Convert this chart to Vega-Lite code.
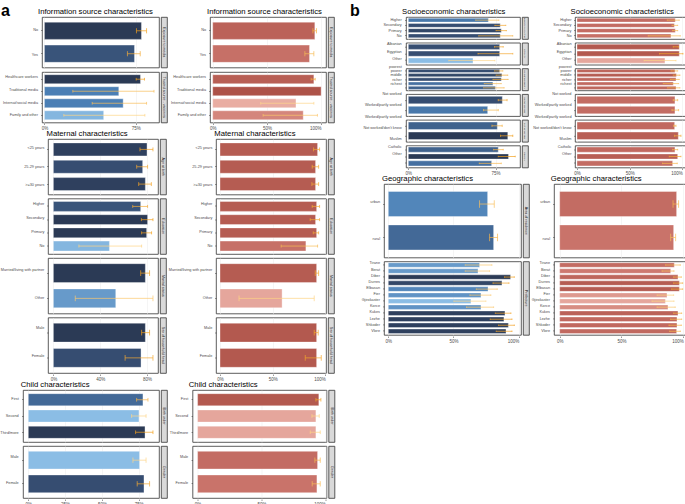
{
"$schema": "https://vega.github.io/schema/vega-lite/v6.json",
"padding": {"left": 0, "top": 3, "right": 0, "bottom": 0},
"background": "white",
"config": {
 "font": "Liberation Sans",
 "view": {"stroke": "#333333", "strokeWidth": 0.8},
 "axis": {"labelFontSize": 4, "labelColor": "#4d4d4d", "tickColor": "#333333", "tickSize": 1.5, "tickWidth": 0.5, "labelPadding": 0.5, "domain": false, "gridColor": "#ebebeb", "gridWidth": 0.5, "labelFlush": false},
 "axisX": {"grid": true, "labelFontSize": 4.5, "labelOverlap": false, "labelAlign": {"expr": "datum.value >= 1 ? 'right' : 'center'"}},
 "axisY": {"grid": false, "labels": false},
 "title": {"fontSize": 7.7, "fontWeight": "normal", "anchor": "start", "color": "black", "offset": 0.5}
},
"datasets": {
 "infoB": [
  {"group": "Exposure to media", "cat": "No", "value": 0.796, "lo": 0.755, "hi": 0.838, "shade": 1.0},
  {"group": "Exposure to media", "cat": "Yes", "value": 0.739, "lo": 0.681, "hi": 0.786, "shade": 0.8},
  {"group": "Trusted source - vaccines", "cat": "Healthcare workers", "value": 0.788, "lo": 0.753, "hi": 0.821, "shade": 1.0},
  {"group": "Trusted source - vaccines", "cat": "Traditional media", "value": 0.61, "lo": 0.233, "hi": 0.899, "shade": 0.5},
  {"group": "Trusted source - vaccines", "cat": "Internat/social media", "value": 0.646, "lo": 0.392, "hi": 0.838, "shade": 0.5},
  {"group": "Trusted source - vaccines", "cat": "Family and other", "value": 0.486, "lo": 0.159, "hi": 0.824, "shade": 0.1}
 ],
 "infoR": [
  {"group": "Exposure to media", "cat": "No", "value": 0.942, "lo": 0.924, "hi": 0.957, "shade": 0.75},
  {"group": "Exposure to media", "cat": "Yes", "value": 0.893, "lo": 0.85, "hi": 0.933, "shade": 0.55},
  {"group": "Trusted source - vaccines", "cat": "Healthcare workers", "value": 0.933, "lo": 0.908, "hi": 0.945, "shade": 0.8},
  {"group": "Trusted source - vaccines", "cat": "Traditional media", "value": 1.0, "lo": null, "hi": null, "shade": 1.0},
  {"group": "Trusted source - vaccines", "cat": "Internat/social media", "value": 0.768, "lo": 0.443, "hi": 0.933, "shade": 0.05},
  {"group": "Trusted source - vaccines", "cat": "Family and other", "value": 0.835, "lo": 0.465, "hi": 0.966, "shade": 0.35}
 ],
 "matB": [
  {"group": "Age at birth", "cat": "<25 years", "value": 0.80, "lo": 0.74, "hi": 0.851, "shade": 0.95},
  {"group": "Age at birth", "cat": "25-29 years", "value": 0.763, "lo": 0.712, "hi": 0.805, "shade": 0.85},
  {"group": "Age at birth", "cat": ">=30 years", "value": 0.786, "lo": 0.729, "hi": 0.837, "shade": 0.95},
  {"group": "Education", "cat": "Higher", "value": 0.746, "lo": 0.678, "hi": 0.805, "shade": 0.8},
  {"group": "Education", "cat": "Secondary", "value": 0.805, "lo": 0.752, "hi": 0.851, "shade": 1.0},
  {"group": "Education", "cat": "Primary", "value": 0.797, "lo": 0.754, "hi": 0.839, "shade": 1.0},
  {"group": "Education", "cat": "No", "value": 0.479, "lo": 0.218, "hi": 0.754, "shade": 0.1},
  {"group": "Marital status", "cat": "Married/living with partner", "value": 0.786, "lo": 0.746, "hi": 0.822, "shade": 1.0},
  {"group": "Marital status", "cat": "Other", "value": 0.533, "lo": 0.187, "hi": 0.851, "shade": 0.3},
  {"group": "Sex of household head", "cat": "Male", "value": 0.786, "lo": 0.754, "hi": 0.822, "shade": 1.0},
  {"group": "Sex of household head", "cat": "Female", "value": 0.749, "lo": 0.613, "hi": 0.851, "shade": 0.85}
 ],
 "matR": [
  {"group": "Age at birth", "cat": "<25 years", "value": 0.927, "lo": 0.889, "hi": 0.946, "shade": 0.85},
  {"group": "Age at birth", "cat": "25-29 years", "value": 0.908, "lo": 0.876, "hi": 0.937, "shade": 0.85},
  {"group": "Age at birth", "cat": ">=30 years", "value": 0.908, "lo": 0.873, "hi": 0.937, "shade": 0.85},
  {"group": "Education", "cat": "Higher", "value": 0.918, "lo": 0.876, "hi": 0.946, "shade": 0.85},
  {"group": "Education", "cat": "Secondary", "value": 0.908, "lo": 0.857, "hi": 0.946, "shade": 0.85},
  {"group": "Education", "cat": "Primary", "value": 0.918, "lo": 0.886, "hi": 0.937, "shade": 0.85},
  {"group": "Education", "cat": "No", "value": 0.816, "lo": 0.581, "hi": 0.927, "shade": 0.55},
  {"group": "Marital status", "cat": "Married/living with partner", "value": 0.918, "lo": 0.905, "hi": 0.937, "shade": 0.85},
  {"group": "Marital status", "cat": "Other", "value": 0.59, "lo": 0.181, "hi": 0.895, "shade": 0.1},
  {"group": "Sex of household head", "cat": "Male", "value": 0.918, "lo": 0.895, "hi": 0.933, "shade": 0.9},
  {"group": "Sex of household head", "cat": "Female", "value": 0.918, "lo": 0.81, "hi": 0.962, "shade": 0.9}
 ],
 "childB": [
  {"group": "Birth order", "cat": "First", "value": 0.779, "lo": 0.736, "hi": 0.813, "shade": 0.65},
  {"group": "Birth order", "cat": "Second", "value": 0.752, "lo": 0.702, "hi": 0.8, "shade": 0.05},
  {"group": "Birth order", "cat": "Third/more", "value": 0.793, "lo": 0.729, "hi": 0.847, "shade": 1.0},
  {"group": "Gender", "cat": "Male", "value": 0.756, "lo": 0.711, "hi": 0.8, "shade": 0.05},
  {"group": "Gender", "cat": "Female", "value": 0.786, "lo": 0.74, "hi": 0.824, "shade": 0.85}
 ],
 "childR": [
  {"group": "Birth order", "cat": "First", "value": 0.95, "lo": 0.927, "hi": 0.966, "shade": 0.9},
  {"group": "Birth order", "cat": "Second", "value": 0.927, "lo": 0.896, "hi": 0.953, "shade": 0.1},
  {"group": "Birth order", "cat": "Third/more", "value": 0.927, "lo": 0.883, "hi": 0.961, "shade": 0.1},
  {"group": "Gender", "cat": "Male", "value": 0.94, "lo": 0.919, "hi": 0.961, "shade": 0.6},
  {"group": "Gender", "cat": "Female", "value": 0.935, "lo": 0.898, "hi": 0.961, "shade": 0.5}
 ],
 "socB": [
  {"group": "Education of partner", "cat": "Higher", "value": 0.688, "lo": 0.579, "hi": 0.779, "shade": 0.55},
  {"group": "Education of partner", "cat": "Secondary", "value": 0.79, "lo": 0.744, "hi": 0.838, "shade": 0.85},
  {"group": "Education of partner", "cat": "Primary", "value": 0.799, "lo": 0.754, "hi": 0.843, "shade": 0.9},
  {"group": "Education of partner", "cat": "No", "value": 0.79, "lo": 0.605, "hi": 0.898, "shade": 0.85},
  {"group": "Ethnicity", "cat": "Albanian", "value": 0.785, "lo": 0.741, "hi": 0.816, "shade": 0.85},
  {"group": "Ethnicity", "cat": "Egyptian", "value": 0.785, "lo": 0.599, "hi": 0.898, "shade": 0.85},
  {"group": "Ethnicity", "cat": "Other", "value": 0.556, "lo": 0.348, "hi": 0.744, "shade": 0.05},
  {"group": "Household wealth", "cat": "poorest", "value": 0.785, "lo": 0.741, "hi": 0.813, "shade": 0.85},
  {"group": "Household wealth", "cat": "poorer", "value": 0.804, "lo": 0.754, "hi": 0.855, "shade": 0.9},
  {"group": "Household wealth", "cat": "middle", "value": 0.799, "lo": 0.727, "hi": 0.858, "shade": 0.85},
  {"group": "Household wealth", "cat": "richer", "value": 0.727, "lo": 0.652, "hi": 0.799, "shade": 0.6},
  {"group": "Household wealth", "cat": "richest", "value": 0.748, "lo": 0.647, "hi": 0.824, "shade": 0.7},
  {"group": "Mother worked", "cat": "Not worked", "value": 0.808, "lo": 0.773, "hi": 0.849, "shade": 0.85},
  {"group": "Mother worked", "cat": "Worked/partly worked", "value": 0.682, "lo": 0.647, "hi": 0.773, "shade": 0.55},
  {"group": "Partner worked", "cat": "Worked/partly worked", "value": 0.765, "lo": 0.719, "hi": 0.807, "shade": 0.7},
  {"group": "Partner worked", "cat": "Not worked/don't know", "value": 0.855, "lo": 0.793, "hi": 0.898, "shade": 1.0},
  {"group": "Religion", "cat": "Muslim", "value": 0.773, "lo": 0.733, "hi": 0.816, "shade": 0.7},
  {"group": "Religion", "cat": "Catholic", "value": 0.861, "lo": 0.773, "hi": 0.919, "shade": 1.0},
  {"group": "Religion", "cat": "Other", "value": 0.716, "lo": 0.61, "hi": 0.799, "shade": 0.6}
 ],
 "socR": [
  {"group": "Education of partner", "cat": "Higher", "value": 0.933, "lo": 0.857, "hi": 0.971, "shade": 0.6},
  {"group": "Education of partner", "cat": "Secondary", "value": 0.924, "lo": 0.902, "hi": 0.956, "shade": 0.6},
  {"group": "Education of partner", "cat": "Primary", "value": 0.933, "lo": 0.908, "hi": 0.956, "shade": 0.6},
  {"group": "Education of partner", "cat": "No", "value": 0.892, "lo": 0.676, "hi": 0.981, "shade": 0.55},
  {"group": "Ethnicity", "cat": "Albanian", "value": 0.971, "lo": 0.914, "hi": 0.962, "shade": 0.9},
  {"group": "Ethnicity", "cat": "Egyptian", "value": 0.971, "lo": 0.784, "hi": 1.006, "shade": 0.9},
  {"group": "Ethnicity", "cat": "Other", "value": 0.835, "lo": 0.638, "hi": 0.94, "shade": 0.1},
  {"group": "Household wealth", "cat": "poorest", "value": 0.93, "lo": 0.892, "hi": 0.956, "shade": 0.7},
  {"group": "Household wealth", "cat": "poorer", "value": 0.943, "lo": 0.914, "hi": 0.978, "shade": 0.85},
  {"group": "Household wealth", "cat": "middle", "value": 0.94, "lo": 0.886, "hi": 0.971, "shade": 0.7},
  {"group": "Household wealth", "cat": "richer", "value": 0.914, "lo": 0.819, "hi": 0.965, "shade": 0.65},
  {"group": "Household wealth", "cat": "richest", "value": 0.94, "lo": 0.86, "hi": 0.978, "shade": 0.7},
  {"group": "Mother worked", "cat": "Not worked", "value": 0.93, "lo": 0.914, "hi": 0.956, "shade": 0.6},
  {"group": "Mother worked", "cat": "Worked/partly worked", "value": 0.93, "lo": 0.902, "hi": 0.965, "shade": 0.6},
  {"group": "Partner worked", "cat": "Worked/partly worked", "value": 0.927, "lo": 0.918, "hi": 0.94, "shade": 0.65},
  {"group": "Partner worked", "cat": "Not worked/don't know", "value": 0.962, "lo": 0.927, "hi": 0.987, "shade": 0.8},
  {"group": "Religion", "cat": "Muslim", "value": 0.93, "lo": 0.908, "hi": 0.956, "shade": 0.65},
  {"group": "Religion", "cat": "Catholic", "value": 0.956, "lo": 0.876, "hi": 0.987, "shade": 0.8},
  {"group": "Religion", "cat": "Other", "value": 0.908, "lo": 0.813, "hi": 0.952, "shade": 0.6}
 ],
 "geoB": [
  {"group": "Area of residence", "cat": "urban", "value": 0.762, "lo": 0.7, "hi": 0.813, "shade": 0.45},
  {"group": "Area of residence", "cat": "rural", "value": 0.808, "lo": 0.777, "hi": 0.838, "shade": 0.65},
  {"group": "Prefecture", "cat": "Tirane", "value": 0.7, "lo": 0.59, "hi": 0.795, "shade": 0.3},
  {"group": "Prefecture", "cat": "Berat", "value": 0.688, "lo": 0.59, "hi": 0.777, "shade": 0.3},
  {"group": "Prefecture", "cat": "Diber", "value": 0.938, "lo": 0.892, "hi": 0.967, "shade": 1.0},
  {"group": "Prefecture", "cat": "Durres", "value": 0.872, "lo": 0.803, "hi": 0.926, "shade": 0.9},
  {"group": "Prefecture", "cat": "Elbasan", "value": 0.765, "lo": 0.675, "hi": 0.836, "shade": 0.45},
  {"group": "Prefecture", "cat": "Fier", "value": 0.711, "lo": 0.626, "hi": 0.787, "shade": 0.35},
  {"group": "Prefecture", "cat": "Gjirokaster", "value": 0.634, "lo": 0.503, "hi": 0.749, "shade": 0.05},
  {"group": "Prefecture", "cat": "Korce", "value": 0.711, "lo": 0.6, "hi": 0.808, "shade": 0.35},
  {"group": "Prefecture", "cat": "Kukes", "value": 0.895, "lo": 0.821, "hi": 0.941, "shade": 0.95},
  {"group": "Prefecture", "cat": "Lezhe", "value": 0.887, "lo": 0.782, "hi": 0.949, "shade": 0.95},
  {"group": "Prefecture", "cat": "Shkoder", "value": 0.921, "lo": 0.846, "hi": 0.967, "shade": 0.95},
  {"group": "Prefecture", "cat": "Vlore", "value": 0.903, "lo": 0.828, "hi": 0.949, "shade": 0.95}
 ],
 "geoR": [
  {"group": "Area of residence", "cat": "urban", "value": 0.946, "lo": 0.917, "hi": 0.962, "shade": 0.6},
  {"group": "Area of residence", "cat": "rural", "value": 0.922, "lo": 0.898, "hi": 0.938, "shade": 0.5},
  {"group": "Prefecture", "cat": "Tirane", "value": 0.927, "lo": 0.857, "hi": 0.976, "shade": 0.6},
  {"group": "Prefecture", "cat": "Berat", "value": 0.898, "lo": 0.828, "hi": 0.925, "shade": 0.45},
  {"group": "Prefecture", "cat": "Diber", "value": 0.957, "lo": 0.922, "hi": 0.984, "shade": 0.7},
  {"group": "Prefecture", "cat": "Durres", "value": 0.968, "lo": 0.922, "hi": 0.995, "shade": 0.85},
  {"group": "Prefecture", "cat": "Elbasan", "value": 0.968, "lo": 0.906, "hi": 0.995, "shade": 0.85},
  {"group": "Prefecture", "cat": "Fier", "value": 0.868, "lo": 0.788, "hi": 0.922, "shade": 0.2},
  {"group": "Prefecture", "cat": "Gjirokaster", "value": 0.855, "lo": 0.747, "hi": 0.925, "shade": 0.1},
  {"group": "Prefecture", "cat": "Korce", "value": 0.876, "lo": 0.788, "hi": 0.935, "shade": 0.3},
  {"group": "Prefecture", "cat": "Kukes", "value": 0.957, "lo": 0.922, "hi": 0.987, "shade": 0.75},
  {"group": "Prefecture", "cat": "Lezhe", "value": 0.949, "lo": 0.898, "hi": 0.987, "shade": 0.65},
  {"group": "Prefecture", "cat": "Shkoder", "value": 0.949, "lo": 0.884, "hi": 0.984, "shade": 0.65},
  {"group": "Prefecture", "cat": "Vlore", "value": 0.946, "lo": 0.89, "hi": 0.976, "shade": 0.65}
 ]
},
"spacing": 15,
"hconcat": [
 {"title": {"text": "a", "fontSize": 16, "fontWeight": "bold", "anchor": "start", "offset": -11, "dx": 1},
  "spacing": 0, "columns": 1,
  "concat": [
   {"spacing": 0, "resolve": {"scale": {"fill": "independent"}}, "hconcat": [
    {"title": {"text": "Information source characteristics", "dx": 38}, "spacing": 0, "hconcat": [
     {"data": {"name": "infoB"},
      "facet": {"row": {"field": "group", "type": "nominal", "sort": ["Exposure to media", "Trusted source - vaccines"], "header": {"title": null, "labels": false}}},
      "spacing": 3, "resolve": {"scale": {"y": "independent"}},
      "spec": {"width": 38.5, "height": 50.5, "view": {"stroke": null},
       "mark": {"type": "text", "align": "right", "baseline": "middle", "fontSize": 3.8, "color": "#4d4d4d", "dx": -0.5},
       "encoding": {"y": {"field": "cat", "type": "nominal", "sort": ["No", "Yes", "Healthcare workers", "Traditional media", "Internat/social media", "Family and other"], "axis": null, "scale": {"paddingInner": 0.25, "paddingOuter": 0.225}},
        "x": {"datum": 1, "type": "quantitative", "scale": {"domain": [0, 1]}, "axis": null}, "text": {"field": "cat"}}}},
     {"data": {"name": "infoB"},
      "facet": {"row": {"field": "group", "type": "nominal", "sort": ["Exposure to media", "Trusted source - vaccines"], "header": {"title": null, "labels": false}}},
      "spacing": 3, "resolve": {"scale": {"y": "independent"}},
      "spec": {"width": 117, "height": 50.5,
       "encoding": {"y": {"field": "cat", "type": "nominal", "title": null, "sort": ["No", "Yes", "Healthcare workers", "Traditional media", "Internat/social media", "Family and other"], "scale": {"paddingInner": 0.25, "paddingOuter": 0.225}}},
       "layer": [
        {"mark": {"type": "bar", "stroke": "white", "strokeWidth": 0.6, "strokeOpacity": 0.6},
         "encoding": {"x": {"field": "value", "type": "quantitative", "title": null, "scale": {"domain": [-0.02, 0.94], "nice": false}, "axis": {"values": [0, 0.25, 0.5, 0.75], "format": ".0%"}}, "x2": {"datum": 0},
          "fill": {"field": "shade", "type": "quantitative", "scale": {"domain": [0, 0.5, 1], "range": ["#93c4ea", "#4b7fb5", "#2b3a55"]}, "legend": null}}},
        {"mark": {"type": "rule", "strokeWidth": 0.7}, "encoding": {"x": {"field": "lo", "type": "quantitative"}, "x2": {"field": "hi"}, "stroke": {"field": "shade", "type": "quantitative", "scale": {"domain": [0, 1], "range": ["#ffd98f", "#f2a01e"]}, "legend": null}}},
        {"mark": {"type": "rule", "strokeWidth": 0.7}, "encoding": {"x": {"field": "lo", "type": "quantitative"}, "y": {"field": "cat", "type": "nominal", "sort": ["No", "Yes", "Healthcare workers", "Traditional media", "Internat/social media", "Family and other"], "bandPosition": 0.35}, "y2": {"field": "cat", "bandPosition": 0.65}, "stroke": {"field": "shade", "type": "quantitative", "legend": null}}},
        {"mark": {"type": "rule", "strokeWidth": 0.7}, "encoding": {"x": {"field": "hi", "type": "quantitative"}, "y": {"field": "cat", "type": "nominal", "sort": ["No", "Yes", "Healthcare workers", "Traditional media", "Internat/social media", "Family and other"], "bandPosition": 0.35}, "y2": {"field": "cat", "bandPosition": 0.65}, "stroke": {"field": "shade", "type": "quantitative", "legend": null}}}
       ]}},
     {"data": {"name": "infoB"}, "transform": [{"aggregate": [{"op": "count", "as": "n"}], "groupby": ["group"]}],
      "facet": {"row": {"field": "group", "type": "nominal", "sort": ["Exposure to media", "Trusted source - vaccines"], "header": {"title": null, "labels": false}}},
      "spacing": 3,
      "spec": {"width": 6, "height": 50.5, "view": {"fill": "#d9d9d9", "stroke": "#333333", "strokeWidth": 0.8}, "mark": {"type": "text", "angle": 90, "fontSize": 3.6, "color": "#1a1a1a"}, "encoding": {"text": {"field": "group", "type": "nominal"}}}}
    ]},
    {"title": {"text": "Information source characteristics", "dx": 39}, "spacing": 0, "hconcat": [
     {"data": {"name": "infoR"},
      "facet": {"row": {"field": "group", "type": "nominal", "sort": ["Exposure to media", "Trusted source - vaccines"], "header": {"title": null, "labels": false}}},
      "spacing": 3, "resolve": {"scale": {"y": "independent"}},
      "spec": {"width": 38.5, "height": 50.5, "view": {"stroke": null},
       "mark": {"type": "text", "align": "right", "baseline": "middle", "fontSize": 3.8, "color": "#4d4d4d", "dx": -0.5},
       "encoding": {"y": {"field": "cat", "type": "nominal", "sort": ["No", "Yes", "Healthcare workers", "Traditional media", "Internat/social media", "Family and other"], "axis": null, "scale": {"paddingInner": 0.25, "paddingOuter": 0.225}},
        "x": {"datum": 1, "type": "quantitative", "scale": {"domain": [0, 1]}, "axis": null}, "text": {"field": "cat"}}}},
     {"data": {"name": "infoR"},
      "facet": {"row": {"field": "group", "type": "nominal", "sort": ["Exposure to media", "Trusted source - vaccines"], "header": {"title": null, "labels": false}}},
      "spacing": 3, "resolve": {"scale": {"y": "independent"}},
      "spec": {"width": 116, "height": 50.5,
       "encoding": {"y": {"field": "cat", "type": "nominal", "title": null, "sort": ["No", "Yes", "Healthcare workers", "Traditional media", "Internat/social media", "Family and other"], "scale": {"paddingInner": 0.25, "paddingOuter": 0.225}}},
       "layer": [
        {"mark": {"type": "bar", "stroke": "white", "strokeWidth": 0.6, "strokeOpacity": 0.6},
         "encoding": {"x": {"field": "value", "type": "quantitative", "title": null, "scale": {"domain": [-0.025, 1.045], "nice": false}, "axis": {"values": [0, 0.25, 0.5, 0.75, 1], "format": ".0%"}}, "x2": {"datum": 0},
          "fill": {"field": "shade", "type": "quantitative", "scale": {"domain": [0, 0.5, 1], "range": ["#ecb3a9", "#c9736a", "#ad5248"]}, "legend": null}}},
        {"mark": {"type": "rule", "strokeWidth": 0.7}, "encoding": {"x": {"field": "lo", "type": "quantitative"}, "x2": {"field": "hi"}, "stroke": {"field": "shade", "type": "quantitative", "scale": {"domain": [0, 1], "range": ["#ffd98f", "#f2a01e"]}, "legend": null}}},
        {"mark": {"type": "rule", "strokeWidth": 0.7}, "encoding": {"x": {"field": "lo", "type": "quantitative"}, "y": {"field": "cat", "type": "nominal", "sort": ["No", "Yes", "Healthcare workers", "Traditional media", "Internat/social media", "Family and other"], "bandPosition": 0.35}, "y2": {"field": "cat", "bandPosition": 0.65}, "stroke": {"field": "shade", "type": "quantitative", "legend": null}}},
        {"mark": {"type": "rule", "strokeWidth": 0.7}, "encoding": {"x": {"field": "hi", "type": "quantitative"}, "y": {"field": "cat", "type": "nominal", "sort": ["No", "Yes", "Healthcare workers", "Traditional media", "Internat/social media", "Family and other"], "bandPosition": 0.35}, "y2": {"field": "cat", "bandPosition": 0.65}, "stroke": {"field": "shade", "type": "quantitative", "legend": null}}}
       ]}},
     {"data": {"name": "infoR"}, "transform": [{"aggregate": [{"op": "count", "as": "n"}], "groupby": ["group"]}],
      "facet": {"row": {"field": "group", "type": "nominal", "sort": ["Exposure to media", "Trusted source - vaccines"], "header": {"title": null, "labels": false}}},
      "spacing": 3,
      "spec": {"width": 6, "height": 50.5, "view": {"fill": "#d9d9d9", "stroke": "#333333", "strokeWidth": 0.8}, "mark": {"type": "text", "angle": 90, "fontSize": 3.6, "color": "#1a1a1a"}, "encoding": {"text": {"field": "group", "type": "nominal"}}}}
    ]}
   ]},
   {"spacing": 1, "resolve": {"scale": {"fill": "independent"}}, "hconcat": [
    {"title": {"text": "Maternal characteristics", "dx": 46.5}, "spacing": 0, "hconcat": [
     {"data": {"name": "matB"},
      "facet": {"row": {"field": "group", "type": "nominal", "sort": ["Age at birth", "Education", "Marital status", "Sex of household head"], "header": {"title": null, "labels": false}}},
      "spacing": 2.5, "resolve": {"scale": {"y": "independent"}},
      "spec": {"width": 44.8, "height": 55.5,
       "view": {"stroke": null},
       "mark": {"type": "text", "align": "right", "baseline": "middle", "fontSize": 3.8, "color": "#4d4d4d", "dx": -0.5},
       "encoding": {"y": {"field": "cat", "type": "nominal", "sort": ["<25 years", "25-29 years", ">=30 years", "Higher", "Secondary", "Primary", "No", "Married/living with partner", "Other", "Male", "Female"], "axis": null, "scale": {"paddingInner": 0.25, "paddingOuter": 0.225}},
        "x": {"datum": 1, "type": "quantitative", "scale": {"domain": [0, 1]}, "axis": null}, "text": {"field": "cat"}}}},
     {"data": {"name": "matB"},
      "facet": {"row": {"field": "group", "type": "nominal", "sort": ["Age at birth", "Education", "Marital status", "Sex of household head"], "header": {"title": null, "labels": false}}},
      "spacing": 2.5, "resolve": {"scale": {"y": "independent"}},
      "spec": {"width": 110, "height": 55.5,
       "encoding": {"y": {"field": "cat", "type": "nominal", "title": null, "sort": ["<25 years", "25-29 years", ">=30 years", "Higher", "Secondary", "Primary", "No", "Married/living with partner", "Other", "Male", "Female"], "scale": {"paddingInner": 0.25, "paddingOuter": 0.225}}},
       "layer": [
        {"mark": {"type": "bar", "stroke": "white", "strokeWidth": 0.6, "strokeOpacity": 0.6},
         "encoding": {"x": {"field": "value", "type": "quantitative", "title": null, "scale": {"domain": [-0.046, 0.894], "nice": false}, "axis": {"values": [0, 0.2, 0.4, 0.6, 0.8], "format": ".0%"}}, "x2": {"datum": 0},
          "fill": {"field": "shade", "type": "quantitative", "scale": {"domain": [0, 0.5, 1], "range": ["#93c4ea", "#4b7fb5", "#2b3a55"]}, "legend": null}}},
        {"mark": {"type": "rule", "strokeWidth": 0.7}, "encoding": {"x": {"field": "lo", "type": "quantitative"}, "x2": {"field": "hi"}, "stroke": {"field": "shade", "type": "quantitative", "scale": {"domain": [0, 1], "range": ["#ffd98f", "#f2a01e"]}, "legend": null}}},
        {"mark": {"type": "rule", "strokeWidth": 0.7}, "encoding": {"x": {"field": "lo", "type": "quantitative"}, "y": {"field": "cat", "type": "nominal", "sort": ["<25 years", "25-29 years", ">=30 years", "Higher", "Secondary", "Primary", "No", "Married/living with partner", "Other", "Male", "Female"], "bandPosition": 0.35}, "y2": {"field": "cat", "bandPosition": 0.65}, "stroke": {"field": "shade", "type": "quantitative", "legend": null}}},
        {"mark": {"type": "rule", "strokeWidth": 0.7}, "encoding": {"x": {"field": "hi", "type": "quantitative"}, "y": {"field": "cat", "type": "nominal", "sort": ["<25 years", "25-29 years", ">=30 years", "Higher", "Secondary", "Primary", "No", "Married/living with partner", "Other", "Male", "Female"], "bandPosition": 0.35}, "y2": {"field": "cat", "bandPosition": 0.65}, "stroke": {"field": "shade", "type": "quantitative", "legend": null}}}
       ]}},
     {"data": {"name": "matB"}, "transform": [{"aggregate": [{"op": "count", "as": "n"}], "groupby": ["group"]}],
      "facet": {"row": {"field": "group", "type": "nominal", "sort": ["Age at birth", "Education", "Marital status", "Sex of household head"], "header": {"title": null, "labels": false}}},
      "spacing": 2.5,
      "spec": {"width": 6, "height": 55.5, "view": {"fill": "#d9d9d9", "stroke": "#333333", "strokeWidth": 0.8}, "mark": {"type": "text", "angle": 90, "fontSize": 3.6, "color": "#1a1a1a"}, "encoding": {"text": {"field": "group", "type": "nominal"}}}}
    ]},
    {"title": {"text": "Maternal characteristics", "dx": 46.3}, "spacing": 0, "hconcat": [
     {"data": {"name": "matR"},
      "facet": {"row": {"field": "group", "type": "nominal", "sort": ["Age at birth", "Education", "Marital status", "Sex of household head"], "header": {"title": null, "labels": false}}},
      "spacing": 2.5, "resolve": {"scale": {"y": "independent"}},
      "spec": {"width": 44.8, "height": 55.5,
       "view": {"stroke": null},
       "mark": {"type": "text", "align": "right", "baseline": "middle", "fontSize": 3.8, "color": "#4d4d4d", "dx": -0.5},
       "encoding": {"y": {"field": "cat", "type": "nominal", "sort": ["<25 years", "25-29 years", ">=30 years", "Higher", "Secondary", "Primary", "No", "Married/living with partner", "Other", "Male", "Female"], "axis": null, "scale": {"paddingInner": 0.25, "paddingOuter": 0.225}},
        "x": {"datum": 1, "type": "quantitative", "scale": {"domain": [0, 1]}, "axis": null}, "text": {"field": "cat"}}}},
     {"data": {"name": "matR"},
      "facet": {"row": {"field": "group", "type": "nominal", "sort": ["Age at birth", "Education", "Marital status", "Sex of household head"], "header": {"title": null, "labels": false}}},
      "spacing": 2.5, "resolve": {"scale": {"y": "independent"}},
      "spec": {"width": 110, "height": 55.5,
       "encoding": {"y": {"field": "cat", "type": "nominal", "title": null, "sort": ["<25 years", "25-29 years", ">=30 years", "Higher", "Secondary", "Primary", "No", "Married/living with partner", "Other", "Male", "Female"], "scale": {"paddingInner": 0.25, "paddingOuter": 0.225}}},
       "layer": [
        {"mark": {"type": "bar", "stroke": "white", "strokeWidth": 0.6, "strokeOpacity": 0.6},
         "encoding": {"x": {"field": "value", "type": "quantitative", "title": null, "scale": {"domain": [-0.038, 1.007], "nice": false}, "axis": {"values": [0, 0.25, 0.5, 0.75, 1], "format": ".0%"}}, "x2": {"datum": 0},
          "fill": {"field": "shade", "type": "quantitative", "scale": {"domain": [0, 0.5, 1], "range": ["#ecb3a9", "#c9736a", "#ad5248"]}, "legend": null}}},
        {"mark": {"type": "rule", "strokeWidth": 0.7}, "encoding": {"x": {"field": "lo", "type": "quantitative"}, "x2": {"field": "hi"}, "stroke": {"field": "shade", "type": "quantitative", "scale": {"domain": [0, 1], "range": ["#ffd98f", "#f2a01e"]}, "legend": null}}},
        {"mark": {"type": "rule", "strokeWidth": 0.7}, "encoding": {"x": {"field": "lo", "type": "quantitative"}, "y": {"field": "cat", "type": "nominal", "sort": ["<25 years", "25-29 years", ">=30 years", "Higher", "Secondary", "Primary", "No", "Married/living with partner", "Other", "Male", "Female"], "bandPosition": 0.35}, "y2": {"field": "cat", "bandPosition": 0.65}, "stroke": {"field": "shade", "type": "quantitative", "legend": null}}},
        {"mark": {"type": "rule", "strokeWidth": 0.7}, "encoding": {"x": {"field": "hi", "type": "quantitative"}, "y": {"field": "cat", "type": "nominal", "sort": ["<25 years", "25-29 years", ">=30 years", "Higher", "Secondary", "Primary", "No", "Married/living with partner", "Other", "Male", "Female"], "bandPosition": 0.35}, "y2": {"field": "cat", "bandPosition": 0.65}, "stroke": {"field": "shade", "type": "quantitative", "legend": null}}}
       ]}},
     {"data": {"name": "matR"}, "transform": [{"aggregate": [{"op": "count", "as": "n"}], "groupby": ["group"]}],
      "facet": {"row": {"field": "group", "type": "nominal", "sort": ["Age at birth", "Education", "Marital status", "Sex of household head"], "header": {"title": null, "labels": false}}},
      "spacing": 2.5,
      "spec": {"width": 6, "height": 55.5, "view": {"fill": "#d9d9d9", "stroke": "#333333", "strokeWidth": 0.8}, "mark": {"type": "text", "angle": 90, "fontSize": 3.6, "color": "#1a1a1a"}, "encoding": {"text": {"field": "group", "type": "nominal"}}}}
    ]}
   ]},
   {"spacing": 1.5, "resolve": {"scale": {"fill": "independent"}}, "hconcat": [
    {"title": {"text": "Child characteristics", "dx": 20.7}, "spacing": 0, "hconcat": [
     {"data": {"name": "childB"},
      "facet": {"row": {"field": "group", "type": "nominal", "sort": ["Birth order", "Gender"], "header": {"title": null, "labels": false}}},
      "spacing": 2, "resolve": {"scale": {"y": "independent"}},
      "spec": {"width": 19.2, "height": 52,
       "view": {"stroke": null},
       "mark": {"type": "text", "align": "right", "baseline": "middle", "fontSize": 3.8, "color": "#4d4d4d", "dx": -0.5},
       "encoding": {"y": {"field": "cat", "type": "nominal", "sort": ["First", "Second", "Third/more", "Male", "Female"], "axis": null, "scale": {"paddingInner": 0.25, "paddingOuter": 0.225}},
        "x": {"datum": 1, "type": "quantitative", "scale": {"domain": [0, 1]}, "axis": null}, "text": {"field": "cat"}}}},
     {"data": {"name": "childB"},
      "facet": {"row": {"field": "group", "type": "nominal", "sort": ["Birth order", "Gender"], "header": {"title": null, "labels": false}}},
      "spacing": 2, "resolve": {"scale": {"y": "independent"}},
      "spec": {"width": 136, "height": 52,
       "encoding": {"y": {"field": "cat", "type": "nominal", "title": null, "sort": ["First", "Second", "Third/more", "Male", "Female"], "scale": {"paddingInner": 0.25, "paddingOuter": 0.225}}},
       "layer": [
        {"mark": {"type": "bar", "stroke": "white", "strokeWidth": 0.6, "strokeOpacity": 0.6},
         "encoding": {"x": {"field": "value", "type": "quantitative", "title": null, "scale": {"domain": [-0.036, 0.888], "nice": false}, "axis": {"values": [0, 0.25, 0.5, 0.75], "format": ".0%"}}, "x2": {"datum": 0},
          "fill": {"field": "shade", "type": "quantitative", "scale": {"domain": [0, 0.5, 1], "range": ["#93c4ea", "#4b7fb5", "#2b3a55"]}, "legend": null}}},
        {"mark": {"type": "rule", "strokeWidth": 0.7}, "encoding": {"x": {"field": "lo", "type": "quantitative"}, "x2": {"field": "hi"}, "stroke": {"field": "shade", "type": "quantitative", "scale": {"domain": [0, 1], "range": ["#ffd98f", "#f2a01e"]}, "legend": null}}},
        {"mark": {"type": "rule", "strokeWidth": 0.7}, "encoding": {"x": {"field": "lo", "type": "quantitative"}, "y": {"field": "cat", "type": "nominal", "sort": ["First", "Second", "Third/more", "Male", "Female"], "bandPosition": 0.35}, "y2": {"field": "cat", "bandPosition": 0.65}, "stroke": {"field": "shade", "type": "quantitative", "legend": null}}},
        {"mark": {"type": "rule", "strokeWidth": 0.7}, "encoding": {"x": {"field": "hi", "type": "quantitative"}, "y": {"field": "cat", "type": "nominal", "sort": ["First", "Second", "Third/more", "Male", "Female"], "bandPosition": 0.35}, "y2": {"field": "cat", "bandPosition": 0.65}, "stroke": {"field": "shade", "type": "quantitative", "legend": null}}}
       ]}},
     {"data": {"name": "childB"}, "transform": [{"aggregate": [{"op": "count", "as": "n"}], "groupby": ["group"]}],
      "facet": {"row": {"field": "group", "type": "nominal", "sort": ["Birth order", "Gender"], "header": {"title": null, "labels": false}}},
      "spacing": 2,
      "spec": {"width": 6, "height": 52, "view": {"fill": "#d9d9d9", "stroke": "#333333", "strokeWidth": 0.8}, "mark": {"type": "text", "angle": 90, "fontSize": 3.6, "color": "#1a1a1a"}, "encoding": {"text": {"field": "group", "type": "nominal"}}}}
    ]},
    {"title": {"text": "Child characteristics", "dx": 19.3}, "spacing": 0, "hconcat": [
     {"data": {"name": "childR"},
      "facet": {"row": {"field": "group", "type": "nominal", "sort": ["Birth order", "Gender"], "header": {"title": null, "labels": false}}},
      "spacing": 2, "resolve": {"scale": {"y": "independent"}},
      "spec": {"width": 19.2, "height": 52,
       "view": {"stroke": null},
       "mark": {"type": "text", "align": "right", "baseline": "middle", "fontSize": 3.8, "color": "#4d4d4d", "dx": -0.5},
       "encoding": {"y": {"field": "cat", "type": "nominal", "sort": ["First", "Second", "Third/more", "Male", "Female"], "axis": null, "scale": {"paddingInner": 0.25, "paddingOuter": 0.225}},
        "x": {"datum": 1, "type": "quantitative", "scale": {"domain": [0, 1]}, "axis": null}, "text": {"field": "cat"}}}},
     {"data": {"name": "childR"},
      "facet": {"row": {"field": "group", "type": "nominal", "sort": ["Birth order", "Gender"], "header": {"title": null, "labels": false}}},
      "spacing": 2, "resolve": {"scale": {"y": "independent"}},
      "spec": {"width": 134, "height": 52,
       "encoding": {"y": {"field": "cat", "type": "nominal", "title": null, "sort": ["First", "Second", "Third/more", "Male", "Female"], "scale": {"paddingInner": 0.25, "paddingOuter": 0.225}}},
       "layer": [
        {"mark": {"type": "bar", "stroke": "white", "strokeWidth": 0.6, "strokeOpacity": 0.6},
         "encoding": {"x": {"field": "value", "type": "quantitative", "title": null, "scale": {"domain": [-0.04, 1.01], "nice": false}, "axis": {"values": [0, 0.25, 0.5, 0.75, 1], "format": ".0%"}}, "x2": {"datum": 0},
          "fill": {"field": "shade", "type": "quantitative", "scale": {"domain": [0, 0.5, 1], "range": ["#ecb3a9", "#c9736a", "#ad5248"]}, "legend": null}}},
        {"mark": {"type": "rule", "strokeWidth": 0.7}, "encoding": {"x": {"field": "lo", "type": "quantitative"}, "x2": {"field": "hi"}, "stroke": {"field": "shade", "type": "quantitative", "scale": {"domain": [0, 1], "range": ["#ffd98f", "#f2a01e"]}, "legend": null}}},
        {"mark": {"type": "rule", "strokeWidth": 0.7}, "encoding": {"x": {"field": "lo", "type": "quantitative"}, "y": {"field": "cat", "type": "nominal", "sort": ["First", "Second", "Third/more", "Male", "Female"], "bandPosition": 0.35}, "y2": {"field": "cat", "bandPosition": 0.65}, "stroke": {"field": "shade", "type": "quantitative", "legend": null}}},
        {"mark": {"type": "rule", "strokeWidth": 0.7}, "encoding": {"x": {"field": "hi", "type": "quantitative"}, "y": {"field": "cat", "type": "nominal", "sort": ["First", "Second", "Third/more", "Male", "Female"], "bandPosition": 0.35}, "y2": {"field": "cat", "bandPosition": 0.65}, "stroke": {"field": "shade", "type": "quantitative", "legend": null}}}
       ]}},
     {"data": {"name": "childR"}, "transform": [{"aggregate": [{"op": "count", "as": "n"}], "groupby": ["group"]}],
      "facet": {"row": {"field": "group", "type": "nominal", "sort": ["Birth order", "Gender"], "header": {"title": null, "labels": false}}},
      "spacing": 2,
      "spec": {"width": 6, "height": 52, "view": {"fill": "#d9d9d9", "stroke": "#333333", "strokeWidth": 0.8}, "mark": {"type": "text", "angle": 90, "fontSize": 3.6, "color": "#1a1a1a"}, "encoding": {"text": {"field": "group", "type": "nominal"}}}}
    ]}
   ]}
  ]},
 {"title": {"text": "b", "fontSize": 16, "fontWeight": "bold", "anchor": "start", "offset": -11, "dx": -10},
  "spacing": 0, "columns": 1,
  "concat": [
   {"spacing": 3, "resolve": {"scale": {"fill": "independent"}}, "hconcat": [
    {"title": {"text": "Socioeconomic characteristics", "dx": 42}, "spacing": 0, "hconcat": [
     {"data": {"name": "socB"},
      "facet": {"row": {"field": "group", "type": "nominal", "sort": ["Education of partner", "Ethnicity", "Household wealth", "Mother worked", "Partner worked", "Religion"], "header": {"title": null, "labels": false}}},
      "spacing": 1.7, "resolve": {"scale": {"y": "independent"}},
      "spec": {"width": 42.2, "height": 22,
       "view": {"stroke": null},
       "mark": {"type": "text", "align": "right", "baseline": "middle", "fontSize": 3.8, "color": "#4d4d4d", "dx": -0.5},
       "encoding": {"y": {"field": "cat", "type": "nominal", "sort": ["Higher", "Secondary", "Primary", "No", "Albanian", "Egyptian", "poorest", "poorer", "middle", "richer", "richest", "Not worked", "Worked/partly worked", "Not worked/don't know", "Muslim", "Catholic", "Other"], "axis": null, "scale": {"paddingInner": 0.25, "paddingOuter": 0.225}},
        "x": {"datum": 1, "type": "quantitative", "scale": {"domain": [0, 1]}, "axis": null}, "text": {"field": "cat"}}}},
     {"data": {"name": "socB"},
      "facet": {"row": {"field": "group", "type": "nominal", "sort": ["Education of partner", "Ethnicity", "Household wealth", "Mother worked", "Partner worked", "Religion"], "header": {"title": null, "labels": false}}},
      "spacing": 1.7, "resolve": {"scale": {"y": "independent"}},
      "spec": {"width": 114, "height": 22,
       "encoding": {"y": {"field": "cat", "type": "nominal", "title": null, "sort": ["Higher", "Secondary", "Primary", "No", "Albanian", "Egyptian", "poorest", "poorer", "middle", "richer", "richest", "Not worked", "Worked/partly worked", "Not worked/don't know", "Muslim", "Catholic", "Other"], "scale": {"paddingInner": 0.25, "paddingOuter": 0.225}}},
       "layer": [
        {"mark": {"type": "bar", "stroke": "white", "strokeWidth": 0.6, "strokeOpacity": 0.6},
         "encoding": {"x": {"field": "value", "type": "quantitative", "title": null, "scale": {"domain": [-0.02, 0.96], "nice": false}, "axis": {"values": [0, 0.25, 0.5, 0.75], "format": ".0%"}}, "x2": {"datum": 0},
          "fill": {"field": "shade", "type": "quantitative", "scale": {"domain": [0, 0.5, 1], "range": ["#93c4ea", "#4b7fb5", "#2b3a55"]}, "legend": null}}},
        {"mark": {"type": "rule", "strokeWidth": 0.7}, "encoding": {"x": {"field": "lo", "type": "quantitative"}, "x2": {"field": "hi"}, "stroke": {"field": "shade", "type": "quantitative", "scale": {"domain": [0, 1], "range": ["#ffd98f", "#f2a01e"]}, "legend": null}}},
        {"mark": {"type": "rule", "strokeWidth": 0.7}, "encoding": {"x": {"field": "lo", "type": "quantitative"}, "y": {"field": "cat", "type": "nominal", "sort": ["Higher", "Secondary", "Primary", "No", "Albanian", "Egyptian", "poorest", "poorer", "middle", "richer", "richest", "Not worked", "Worked/partly worked", "Not worked/don't know", "Muslim", "Catholic", "Other"], "bandPosition": 0.35}, "y2": {"field": "cat", "bandPosition": 0.65}, "stroke": {"field": "shade", "type": "quantitative", "legend": null}}},
        {"mark": {"type": "rule", "strokeWidth": 0.7}, "encoding": {"x": {"field": "hi", "type": "quantitative"}, "y": {"field": "cat", "type": "nominal", "sort": ["Higher", "Secondary", "Primary", "No", "Albanian", "Egyptian", "poorest", "poorer", "middle", "richer", "richest", "Not worked", "Worked/partly worked", "Not worked/don't know", "Muslim", "Catholic", "Other"], "bandPosition": 0.35}, "y2": {"field": "cat", "bandPosition": 0.65}, "stroke": {"field": "shade", "type": "quantitative", "legend": null}}}
       ]}},
     {"data": {"name": "socB"}, "transform": [{"aggregate": [{"op": "count", "as": "n"}], "groupby": ["group"]}],
      "facet": {"row": {"field": "group", "type": "nominal", "sort": ["Education of partner", "Ethnicity", "Household wealth", "Mother worked", "Partner worked", "Religion"], "header": {"title": null, "labels": false}}},
      "spacing": 1.7,
      "spec": {"width": 6, "height": 22, "view": {"fill": "#d9d9d9", "stroke": "#333333", "strokeWidth": 0.8}, "mark": {"type": "text", "angle": 90, "fontSize": 2.3, "color": "#1a1a1a"}, "encoding": {"text": {"field": "group", "type": "nominal"}}}}
    ]},
    {"title": {"text": "Socioeconomic characteristics", "dx": 38.5}, "spacing": 0, "hconcat": [
     {"data": {"name": "socR"},
      "facet": {"row": {"field": "group", "type": "nominal", "sort": ["Education of partner", "Ethnicity", "Household wealth", "Mother worked", "Partner worked", "Religion"], "header": {"title": null, "labels": false}}},
      "spacing": 1.7, "resolve": {"scale": {"y": "independent"}},
      "spec": {"width": 40, "height": 22,
       "view": {"stroke": null},
       "mark": {"type": "text", "align": "right", "baseline": "middle", "fontSize": 3.8, "color": "#4d4d4d", "dx": -0.5},
       "encoding": {"y": {"field": "cat", "type": "nominal", "sort": ["Higher", "Secondary", "Primary", "No", "Albanian", "Egyptian", "poorest", "poorer", "middle", "richer", "richest", "Not worked", "Worked/partly worked", "Not worked/don't know", "Muslim", "Catholic", "Other"], "axis": null, "scale": {"paddingInner": 0.25, "paddingOuter": 0.225}},
        "x": {"datum": 1, "type": "quantitative", "scale": {"domain": [0, 1]}, "axis": null}, "text": {"field": "cat"}}}},
     {"data": {"name": "socR"},
      "facet": {"row": {"field": "group", "type": "nominal", "sort": ["Education of partner", "Ethnicity", "Household wealth", "Mother worked", "Partner worked", "Religion"], "header": {"title": null, "labels": false}}},
      "spacing": 1.7, "resolve": {"scale": {"y": "independent"}},
      "spec": {"width": 111, "height": 22,
       "encoding": {"y": {"field": "cat", "type": "nominal", "title": null, "sort": ["Higher", "Secondary", "Primary", "No", "Albanian", "Egyptian", "poorest", "poorer", "middle", "richer", "richest", "Not worked", "Worked/partly worked", "Not worked/don't know", "Muslim", "Catholic", "Other"], "scale": {"paddingInner": 0.25, "paddingOuter": 0.225}}},
       "layer": [
        {"mark": {"type": "bar", "stroke": "white", "strokeWidth": 0.6, "strokeOpacity": 0.6},
         "encoding": {"x": {"field": "value", "type": "quantitative", "title": null, "scale": {"domain": [-0.019, 1.035], "nice": false}, "axis": {"values": [0, 0.25, 0.5, 0.75, 1], "format": ".0%"}}, "x2": {"datum": 0},
          "fill": {"field": "shade", "type": "quantitative", "scale": {"domain": [0, 0.5, 1], "range": ["#ecb3a9", "#c9736a", "#ad5248"]}, "legend": null}}},
        {"mark": {"type": "rule", "strokeWidth": 0.7}, "encoding": {"x": {"field": "lo", "type": "quantitative"}, "x2": {"field": "hi"}, "stroke": {"field": "shade", "type": "quantitative", "scale": {"domain": [0, 1], "range": ["#ffd98f", "#f2a01e"]}, "legend": null}}},
        {"mark": {"type": "rule", "strokeWidth": 0.7}, "encoding": {"x": {"field": "lo", "type": "quantitative"}, "y": {"field": "cat", "type": "nominal", "sort": ["Higher", "Secondary", "Primary", "No", "Albanian", "Egyptian", "poorest", "poorer", "middle", "richer", "richest", "Not worked", "Worked/partly worked", "Not worked/don't know", "Muslim", "Catholic", "Other"], "bandPosition": 0.35}, "y2": {"field": "cat", "bandPosition": 0.65}, "stroke": {"field": "shade", "type": "quantitative", "legend": null}}},
        {"mark": {"type": "rule", "strokeWidth": 0.7}, "encoding": {"x": {"field": "hi", "type": "quantitative"}, "y": {"field": "cat", "type": "nominal", "sort": ["Higher", "Secondary", "Primary", "No", "Albanian", "Egyptian", "poorest", "poorer", "middle", "richer", "richest", "Not worked", "Worked/partly worked", "Not worked/don't know", "Muslim", "Catholic", "Other"], "bandPosition": 0.35}, "y2": {"field": "cat", "bandPosition": 0.65}, "stroke": {"field": "shade", "type": "quantitative", "legend": null}}}
       ]}},
     {"data": {"name": "socR"}, "transform": [{"aggregate": [{"op": "count", "as": "n"}], "groupby": ["group"]}],
      "facet": {"row": {"field": "group", "type": "nominal", "sort": ["Education of partner", "Ethnicity", "Household wealth", "Mother worked", "Partner worked", "Religion"], "header": {"title": null, "labels": false}}},
      "spacing": 1.7,
      "spec": {"width": 6, "height": 22, "view": {"fill": "#d9d9d9", "stroke": "#333333", "strokeWidth": 0.8}, "mark": {"type": "text", "angle": 90, "fontSize": 2.3, "color": "#1a1a1a"}, "encoding": {"text": {"field": "group", "type": "nominal"}}}}
    ]}
   ]},
   {"spacing": 0, "resolve": {"scale": {"fill": "independent"}}, "hconcat": [
    {"title": {"text": "Geographic characteristics", "dx": 22}, "spacing": 0, "hconcat": [
     {"data": {"name": "geoB"},
      "facet": {"row": {"field": "group", "type": "nominal", "sort": ["Area of residence", "Prefecture"], "header": {"title": null, "labels": false}}},
      "spacing": 2.4, "resolve": {"scale": {"y": "independent"}},
      "spec": {"width": 20.5, "height": 73.5,
       "view": {"stroke": null},
       "mark": {"type": "text", "align": "right", "baseline": "middle", "fontSize": 3.8, "color": "#4d4d4d", "dx": -0.5},
       "encoding": {"y": {"field": "cat", "type": "nominal", "sort": ["urban", "rural", "Tirane", "Berat", "Diber", "Durres", "Elbasan", "Fier", "Gjirokaster", "Korce", "Kukes", "Lezhe", "Shkoder", "Vlore"], "axis": null, "scale": {"paddingInner": 0.25, "paddingOuter": 0.225}},
        "x": {"datum": 1, "type": "quantitative", "scale": {"domain": [0, 1]}, "axis": null}, "text": {"field": "cat"}}}},
     {"data": {"name": "geoB"},
      "facet": {"row": {"field": "group", "type": "nominal", "sort": ["Area of residence", "Prefecture"], "header": {"title": null, "labels": false}}},
      "spacing": 2.4, "resolve": {"scale": {"y": "independent"}},
      "spec": {"width": 137, "height": 73.5,
       "encoding": {"y": {"field": "cat", "type": "nominal", "title": null, "sort": ["urban", "rural", "Tirane", "Berat", "Diber", "Durres", "Elbasan", "Fier", "Gjirokaster", "Korce", "Kukes", "Lezhe", "Shkoder", "Vlore"], "scale": {"paddingInner": 0.25, "paddingOuter": 0.225}}},
       "layer": [
        {"mark": {"type": "bar", "stroke": "white", "strokeWidth": 0.6, "strokeOpacity": 0.6},
         "encoding": {"x": {"field": "value", "type": "quantitative", "title": null, "scale": {"domain": [-0.033, 1.018], "nice": false}, "axis": {"values": [0, 0.25, 0.5, 0.75, 1], "format": ".0%"}}, "x2": {"datum": 0},
          "fill": {"field": "shade", "type": "quantitative", "scale": {"domain": [0, 0.5, 1], "range": ["#93c4ea", "#4b7fb5", "#2b3a55"]}, "legend": null}}},
        {"mark": {"type": "rule", "strokeWidth": 0.7}, "encoding": {"x": {"field": "lo", "type": "quantitative"}, "x2": {"field": "hi"}, "stroke": {"field": "shade", "type": "quantitative", "scale": {"domain": [0, 1], "range": ["#ffd98f", "#f2a01e"]}, "legend": null}}},
        {"mark": {"type": "rule", "strokeWidth": 0.7}, "encoding": {"x": {"field": "lo", "type": "quantitative"}, "y": {"field": "cat", "type": "nominal", "sort": ["urban", "rural", "Tirane", "Berat", "Diber", "Durres", "Elbasan", "Fier", "Gjirokaster", "Korce", "Kukes", "Lezhe", "Shkoder", "Vlore"], "bandPosition": 0.35}, "y2": {"field": "cat", "bandPosition": 0.65}, "stroke": {"field": "shade", "type": "quantitative", "legend": null}}},
        {"mark": {"type": "rule", "strokeWidth": 0.7}, "encoding": {"x": {"field": "hi", "type": "quantitative"}, "y": {"field": "cat", "type": "nominal", "sort": ["urban", "rural", "Tirane", "Berat", "Diber", "Durres", "Elbasan", "Fier", "Gjirokaster", "Korce", "Kukes", "Lezhe", "Shkoder", "Vlore"], "bandPosition": 0.35}, "y2": {"field": "cat", "bandPosition": 0.65}, "stroke": {"field": "shade", "type": "quantitative", "legend": null}}}
       ]}},
     {"data": {"name": "geoB"}, "transform": [{"aggregate": [{"op": "count", "as": "n"}], "groupby": ["group"]}],
      "facet": {"row": {"field": "group", "type": "nominal", "sort": ["Area of residence", "Prefecture"], "header": {"title": null, "labels": false}}},
      "spacing": 2.4,
      "spec": {"width": 6, "height": 73.5, "view": {"fill": "#d9d9d9", "stroke": "#333333", "strokeWidth": 0.8}, "mark": {"type": "text", "angle": 90, "fontSize": 3.6, "color": "#1a1a1a"}, "encoding": {"text": {"field": "group", "type": "nominal"}}}}
    ]},
    {"title": {"text": "Geographic characteristics", "dx": 20.7}, "spacing": 0, "hconcat": [
     {"data": {"name": "geoR"},
      "facet": {"row": {"field": "group", "type": "nominal", "sort": ["Area of residence", "Prefecture"], "header": {"title": null, "labels": false}}},
      "spacing": 2.4, "resolve": {"scale": {"y": "independent"}},
      "spec": {"width": 20.5, "height": 73.5,
       "view": {"stroke": null},
       "mark": {"type": "text", "align": "right", "baseline": "middle", "fontSize": 3.8, "color": "#4d4d4d", "dx": -0.5},
       "encoding": {"y": {"field": "cat", "type": "nominal", "sort": ["urban", "rural", "Tirane", "Berat", "Diber", "Durres", "Elbasan", "Fier", "Gjirokaster", "Korce", "Kukes", "Lezhe", "Shkoder", "Vlore"], "axis": null, "scale": {"paddingInner": 0.25, "paddingOuter": 0.225}},
        "x": {"datum": 1, "type": "quantitative", "scale": {"domain": [0, 1]}, "axis": null}, "text": {"field": "cat"}}}},
     {"data": {"name": "geoR"},
      "facet": {"row": {"field": "group", "type": "nominal", "sort": ["Area of residence", "Prefecture"], "header": {"title": null, "labels": false}}},
      "spacing": 2.4, "resolve": {"scale": {"y": "independent"}},
      "spec": {"width": 133, "height": 73.5,
       "encoding": {"y": {"field": "cat", "type": "nominal", "title": null, "sort": ["urban", "rural", "Tirane", "Berat", "Diber", "Durres", "Elbasan", "Fier", "Gjirokaster", "Korce", "Kukes", "Lezhe", "Shkoder", "Vlore"], "scale": {"paddingInner": 0.25, "paddingOuter": 0.225}}},
       "layer": [
        {"mark": {"type": "bar", "stroke": "white", "strokeWidth": 0.6, "strokeOpacity": 0.6},
         "encoding": {"x": {"field": "value", "type": "quantitative", "title": null, "scale": {"domain": [-0.046, 1.03], "nice": false}, "axis": {"values": [0, 0.25, 0.5, 0.75, 1], "format": ".0%"}}, "x2": {"datum": 0},
          "fill": {"field": "shade", "type": "quantitative", "scale": {"domain": [0, 0.5, 1], "range": ["#ecb3a9", "#c9736a", "#ad5248"]}, "legend": null}}},
        {"mark": {"type": "rule", "strokeWidth": 0.7}, "encoding": {"x": {"field": "lo", "type": "quantitative"}, "x2": {"field": "hi"}, "stroke": {"field": "shade", "type": "quantitative", "scale": {"domain": [0, 1], "range": ["#ffd98f", "#f2a01e"]}, "legend": null}}},
        {"mark": {"type": "rule", "strokeWidth": 0.7}, "encoding": {"x": {"field": "lo", "type": "quantitative"}, "y": {"field": "cat", "type": "nominal", "sort": ["urban", "rural", "Tirane", "Berat", "Diber", "Durres", "Elbasan", "Fier", "Gjirokaster", "Korce", "Kukes", "Lezhe", "Shkoder", "Vlore"], "bandPosition": 0.35}, "y2": {"field": "cat", "bandPosition": 0.65}, "stroke": {"field": "shade", "type": "quantitative", "legend": null}}},
        {"mark": {"type": "rule", "strokeWidth": 0.7}, "encoding": {"x": {"field": "hi", "type": "quantitative"}, "y": {"field": "cat", "type": "nominal", "sort": ["urban", "rural", "Tirane", "Berat", "Diber", "Durres", "Elbasan", "Fier", "Gjirokaster", "Korce", "Kukes", "Lezhe", "Shkoder", "Vlore"], "bandPosition": 0.35}, "y2": {"field": "cat", "bandPosition": 0.65}, "stroke": {"field": "shade", "type": "quantitative", "legend": null}}}
       ]}},
     {"data": {"name": "geoR"}, "transform": [{"aggregate": [{"op": "count", "as": "n"}], "groupby": ["group"]}],
      "facet": {"row": {"field": "group", "type": "nominal", "sort": ["Area of residence", "Prefecture"], "header": {"title": null, "labels": false}}},
      "spacing": 2.4,
      "spec": {"width": 6, "height": 73.5, "view": {"fill": "#d9d9d9", "stroke": "#333333", "strokeWidth": 0.8}, "mark": {"type": "text", "angle": 90, "fontSize": 3.6, "color": "#1a1a1a"}, "encoding": {"text": {"field": "group", "type": "nominal"}}}}
    ]}
   ]}
  ]}
]
}
